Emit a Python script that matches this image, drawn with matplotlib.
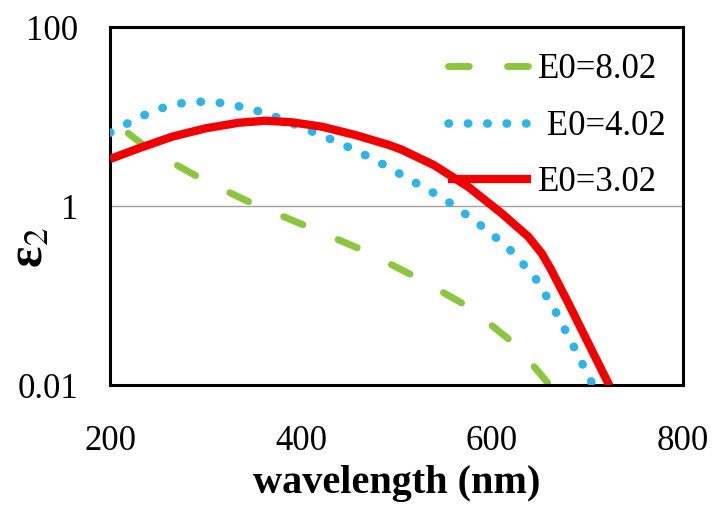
import numpy as np
import matplotlib
matplotlib.use('Agg')
import matplotlib.pyplot as plt

# eps2 spectra for three band-gap values (E0 in eV)
wl_802 = [219, 242, 298, 352, 410, 468, 522, 576, 625, 662]
eps_802 = [6.5, 4.2, 1.95, 1.03, 0.57, 0.31, 0.157, 0.074, 0.028, 0.0095]

wl_402 = [200, 206, 224, 243, 263, 283, 304, 325, 345, 364, 403, 440, 477,
          513, 550, 584, 616, 644, 665, 684, 703, 706]
eps_402 = [6.6, 7.0, 9.1, 11.2, 13.4, 14.5, 14.7, 13.8, 12.2, 10.9, 7.4, 5.1, 3.3,
           2.0, 1.2, 0.66, 0.35, 0.165, 0.071, 0.029, 0.0114, 0.0098]

wl_302 = [200, 230, 265, 300, 335, 363, 391, 422, 457, 492, 505, 539, 575,
          610, 638, 652, 662, 680, 701, 723]
eps_302 = [3.35, 4.41, 5.95, 7.38, 8.53, 8.98, 8.61, 7.69, 6.21, 4.81, 4.28, 2.87, 1.64,
           0.83, 0.454, 0.296, 0.193, 0.082, 0.029, 0.0098]

labels = ['E0=8.02', ' E0=4.02', 'E0=3.02']
x_ticks = [200, 400, 600, 800]
y_ticks = [0.01, 1, 100]

plt.rcParams['font.family'] = ['Liberation Serif', 'DejaVu Serif']
plt.rcParams['mathtext.fontset'] = 'stix'

fig = plt.figure(figsize=(7.13, 5.07), dpi=100)
ax = fig.add_axes([0.1543, 0.2406, 0.8037, 0.7061])

ax.axhline(1, color='#a0a0a0', lw=1.0, zorder=1)

ax.plot(wl_802, eps_802, color='#8CC63F', lw=5, linestyle=(0, (3, 5.5)),
        dash_capstyle='round', label=labels[0], zorder=2)
ax.plot(wl_402, eps_402, color='#2DB5E8', lw=6.2, linestyle=(0, (0.05, 2.2)),
        dash_capstyle='round', label=labels[1], zorder=3)
ax.plot(wl_302, eps_302, color='#F00000', lw=6, solid_capstyle='butt',
        solid_joinstyle='round', label=labels[2], zorder=4)

ax.set_yscale('log')
ax.set_xlim(200, 800)
ax.set_ylim(0.01, 100)
ax.set_xticks(x_ticks)
ax.set_xticklabels([str(v) for v in x_ticks])
ax.set_yticks(y_ticks)
ax.set_yticklabels(['0.01', '1', '100'])
ax.minorticks_off()
ax.tick_params(axis='both', length=0, labelsize=25)
ax.tick_params(axis='x', pad=29)
ax.tick_params(axis='y', pad=23)

for s in ax.spines.values():
    s.set_linewidth(2.2)
    s.set_color('black')

ax.set_xlabel('wavelength (nm)', fontsize=29, fontweight='bold', labelpad=5)
fig.text(30 / 713, 1 - 248 / 507, 'ε$_2$', fontsize=36, fontweight='bold',
         rotation=90, ha='center', va='center')

leg = ax.legend(loc='upper right', frameon=False, fontsize=25,
                handlelength=2.4, handletextpad=0.2, labelspacing=0.68,
                borderaxespad=0.3, bbox_to_anchor=(1.012, 0.995))

fig.savefig('out.png', dpi=100)
